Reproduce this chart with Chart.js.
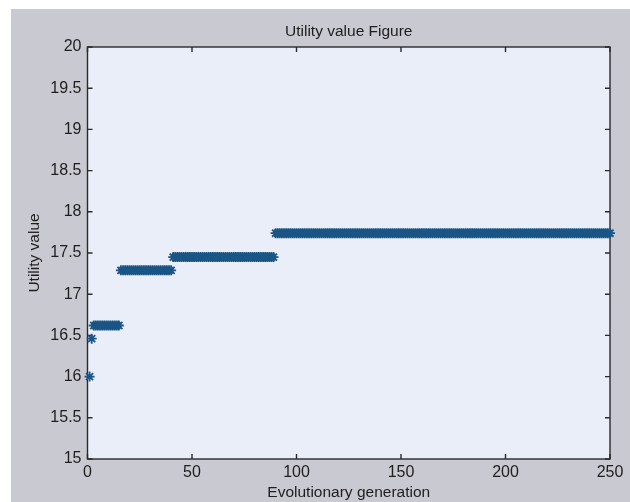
<!DOCTYPE html>
<html>
<head>
<meta charset="utf-8">
<script src="https://cdn.jsdelivr.net/npm/chart.js@4/dist/chart.umd.min.js"></script>
<style>
  html, body { margin: 0; padding: 0; background: #ffffff; }
  #wrap { position: relative; width: 630px; height: 502px; }
</style>
</head>
<body>
<div id="wrap"><canvas id="c" width="630" height="502"></canvas></div>
<script>
// ---- Data (utility value per evolutionary generation 1..250) ----
const titleText = "Utility value Figure";
const xTitle = "Evolutionary generation";
const yTitle = "Utility value";
const xTicks = [0, 50, 100, 150, 200, 250];
const yTicks = [15, 15.5, 16, 16.5, 17, 17.5, 18, 18.5, 19, 19.5, 20];

const utilityValues = [
  16.00, 16.46, 16.62, 16.62, 16.62, 16.62, 16.62, 16.62, 16.62, 16.62,
  16.62, 16.62, 16.62, 16.62, 16.62, 17.29, 17.29, 17.29, 17.29, 17.29,
  17.29, 17.29, 17.29, 17.29, 17.29, 17.29, 17.29, 17.29, 17.29, 17.29,
  17.29, 17.29, 17.29, 17.29, 17.29, 17.29, 17.29, 17.29, 17.29, 17.29,
  17.45, 17.45, 17.45, 17.45, 17.45, 17.45, 17.45, 17.45, 17.45, 17.45,
  17.45, 17.45, 17.45, 17.45, 17.45, 17.45, 17.45, 17.45, 17.45, 17.45,
  17.45, 17.45, 17.45, 17.45, 17.45, 17.45, 17.45, 17.45, 17.45, 17.45,
  17.45, 17.45, 17.45, 17.45, 17.45, 17.45, 17.45, 17.45, 17.45, 17.45,
  17.45, 17.45, 17.45, 17.45, 17.45, 17.45, 17.45, 17.45, 17.45, 17.74,
  17.74, 17.74, 17.74, 17.74, 17.74, 17.74, 17.74, 17.74, 17.74, 17.74,
  17.74, 17.74, 17.74, 17.74, 17.74, 17.74, 17.74, 17.74, 17.74, 17.74,
  17.74, 17.74, 17.74, 17.74, 17.74, 17.74, 17.74, 17.74, 17.74, 17.74,
  17.74, 17.74, 17.74, 17.74, 17.74, 17.74, 17.74, 17.74, 17.74, 17.74,
  17.74, 17.74, 17.74, 17.74, 17.74, 17.74, 17.74, 17.74, 17.74, 17.74,
  17.74, 17.74, 17.74, 17.74, 17.74, 17.74, 17.74, 17.74, 17.74, 17.74,
  17.74, 17.74, 17.74, 17.74, 17.74, 17.74, 17.74, 17.74, 17.74, 17.74,
  17.74, 17.74, 17.74, 17.74, 17.74, 17.74, 17.74, 17.74, 17.74, 17.74,
  17.74, 17.74, 17.74, 17.74, 17.74, 17.74, 17.74, 17.74, 17.74, 17.74,
  17.74, 17.74, 17.74, 17.74, 17.74, 17.74, 17.74, 17.74, 17.74, 17.74,
  17.74, 17.74, 17.74, 17.74, 17.74, 17.74, 17.74, 17.74, 17.74, 17.74,
  17.74, 17.74, 17.74, 17.74, 17.74, 17.74, 17.74, 17.74, 17.74, 17.74,
  17.74, 17.74, 17.74, 17.74, 17.74, 17.74, 17.74, 17.74, 17.74, 17.74,
  17.74, 17.74, 17.74, 17.74, 17.74, 17.74, 17.74, 17.74, 17.74, 17.74,
  17.74, 17.74, 17.74, 17.74, 17.74, 17.74, 17.74, 17.74, 17.74, 17.74,
  17.74, 17.74, 17.74, 17.74, 17.74, 17.74, 17.74, 17.74, 17.74, 17.74
];

// ---- Build chart table from arrays ----
const points = utilityValues.map((v, i) => ({ x: i + 1, y: v }));

const FONT = "'Liberation Sans', Arial, Helvetica, sans-serif";
const TEXT = "#1e1e1e";

const matlabFrame = {
  id: 'matlabFrame',
  beforeDraw(chart) {
    const ctx = chart.ctx;
    const a = chart.chartArea;
    ctx.save();
    ctx.fillStyle = '#ffffff';
    ctx.fillRect(0, 0, chart.width, chart.height);
    ctx.fillStyle = '#c9c9d1';
    ctx.fillRect(11, 9, chart.width - 11, chart.height - 9);
    ctx.fillStyle = '#e9eef8';
    ctx.fillRect(a.left, a.top, a.right - a.left, a.bottom - a.top);
    ctx.restore();
  },
  beforeDatasetsDraw(chart) {
    const ctx = chart.ctx;
    const a = chart.chartArea;
    const xs = chart.scales.x, ys = chart.scales.y;
    ctx.save();
    ctx.strokeStyle = '#2a2a2a';
    ctx.lineWidth = 1.4;
    ctx.strokeRect(a.left, a.top, a.right - a.left, a.bottom - a.top);
    const tl = 5;
    ctx.beginPath();
    ys.ticks.forEach(t => {
      const y = ys.getPixelForValue(t.value);
      ctx.moveTo(a.left, y); ctx.lineTo(a.left + tl, y);
      ctx.moveTo(a.right, y); ctx.lineTo(a.right - tl, y);
    });
    xs.ticks.forEach(t => {
      const x = xs.getPixelForValue(t.value);
      ctx.moveTo(x, a.bottom); ctx.lineTo(x, a.bottom - tl);
      ctx.moveTo(x, a.top); ctx.lineTo(x, a.top + tl);
    });
    ctx.stroke();
    ctx.restore();
  }
};

new Chart(document.getElementById('c'), {
  type: 'scatter',
  data: {
    datasets: [{
      data: points,
      showLine: false,
      pointStyle: 'star',
      pointRadius: 5,
      pointBorderWidth: 1.8,
      borderColor: '#1a5585',
      backgroundColor: '#1a5585',
      clip: false
    }]
  },
  options: {
    responsive: false,
    animation: false,
    events: [],
    layout: { padding: { left: 0, right: 20, top: 0, bottom: 0 } },
    plugins: {
      legend: { display: false },
      tooltip: { enabled: false },
      title: {
        display: true,
        text: titleText,
        fullSize: false,
        color: TEXT,
        font: { family: FONT, size: 15.5, weight: 'normal', lineHeight: 1.2 },
        padding: { top: 22.4, bottom: 6 }
      }
    },
    scales: {
      x: {
        type: 'linear',
        min: 0, max: 250,
        afterBuildTicks(scale) { scale.ticks = xTicks.map(v => ({ value: v })); },
        afterFit(scale) { scale.height = 43; },
        grid: { display: false, drawTicks: false },
        border: { display: false },
        ticks: {
          color: TEXT, padding: 4, maxRotation: 0,
          callback: v => String(v),
          font: { family: FONT, size: 16, lineHeight: 1.2 }
        },
        title: {
          display: true, text: xTitle, color: TEXT,
          font: { family: FONT, size: 15.5, lineHeight: 1.2 },
          padding: { top: 0, bottom: 0 }
        }
      },
      y: {
        type: 'linear',
        min: 15, max: 20,
        afterBuildTicks(scale) { scale.ticks = yTicks.map(v => ({ value: v })); },
        afterFit(scale) { scale.width = 87.5; },
        grid: { display: false, drawTicks: false },
        border: { display: false },
        ticks: {
          color: TEXT, padding: 6,
          callback: v => String(v),
          font: { family: FONT, size: 16, lineHeight: 1.2 }
        },
        title: {
          display: true, text: yTitle, color: TEXT,
          font: { family: FONT, size: 15.5, lineHeight: 1.2 },
          padding: { top: 25, bottom: 0 }
        }
      }
    }
  },
  plugins: [matlabFrame]
});
</script>
</body>
</html>
